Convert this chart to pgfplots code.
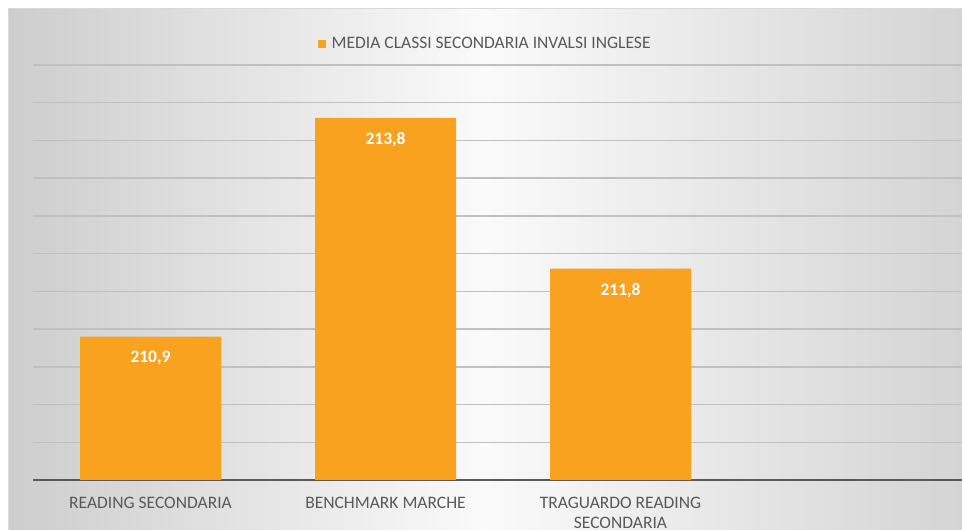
\documentclass[border=0pt]{standalone}
\usepackage{fontspec}
\setmainfont{Carlito}
\usepackage{pgfplots}
\pgfplotsset{compat=1.18}
\definecolor{barorange}{RGB}{249,162,32}
\definecolor{txtgray}{RGB}{89,89,89}
\definecolor{gridgray}{RGB}{192,192,192}
\begin{document}
\begin{tikzpicture}[x=1pt,y=1pt]
\useasboundingbox (0,0) rectangle (962,530);
\clip (0,0) rectangle (962,530);
\fill[white] (0,0) rectangle (962,530);
\shade[left color={rgb,255:red,205;green,205;blue,205}, right color={rgb,255:red,212;green,212;blue,212}, middle color={rgb,255:red,250;green,250;blue,250}] (8,0) rectangle (962,521);
\draw[gray!30, line width=1pt] (8,0) -- (8,521) -- (962,521);
\begin{axis}[
  at={(33pt,50pt)}, anchor=south west,
  width=940pt, height=415pt, scale only axis,
  ybar, bar width=141pt,
  xmin=-0.5, xmax=3.5,
  ymin=209, ymax=214.5,
  ytick={209,209.5,...,214.5},
  yticklabels={},
  xtick={0,1,2},
  xticklabels={READING SECONDARIA, BENCHMARK MARCHE, {TRAGUARDO READING\\SECONDARIA}},
  xticklabel style={font=\fontsize{17.5}{20}\selectfont, text=txtgray, align=center, yshift=-14pt},
  major tick length=0pt,
  axis lines*=left,
  y axis line style={draw=none},
  x axis line style={draw=black!65, line width=1.8pt},
  ymajorgrids,
  major grid style={gridgray, line width=1.5pt},
  nodes near coords={\pgfmathprintnumber[use comma,fixed,fixed zerofill,precision=1,assume math mode=true]{\pgfplotspointmeta}},
  nodes near coords style={font=\fontsize{17.5}{20}\selectfont\bfseries, text=white, anchor=north, yshift=-11pt},
  legend style={at={(0.481,1.0506)}, anchor=center, draw=none, fill=none, font=\fontsize{17.5}{20}\selectfont, text=txtgray},
  legend image code/.code={\fill[barorange] (0pt,-4pt) rectangle (8pt,4pt); \path (12pt,0pt);},
]
\addplot[fill=barorange, draw=none] coordinates {(0,210.9) (1,213.8) (2,211.8)};
\addlegendentry{MEDIA CLASSI SECONDARIA INVALSI INGLESE}
\end{axis}
\end{tikzpicture}
\end{document}
